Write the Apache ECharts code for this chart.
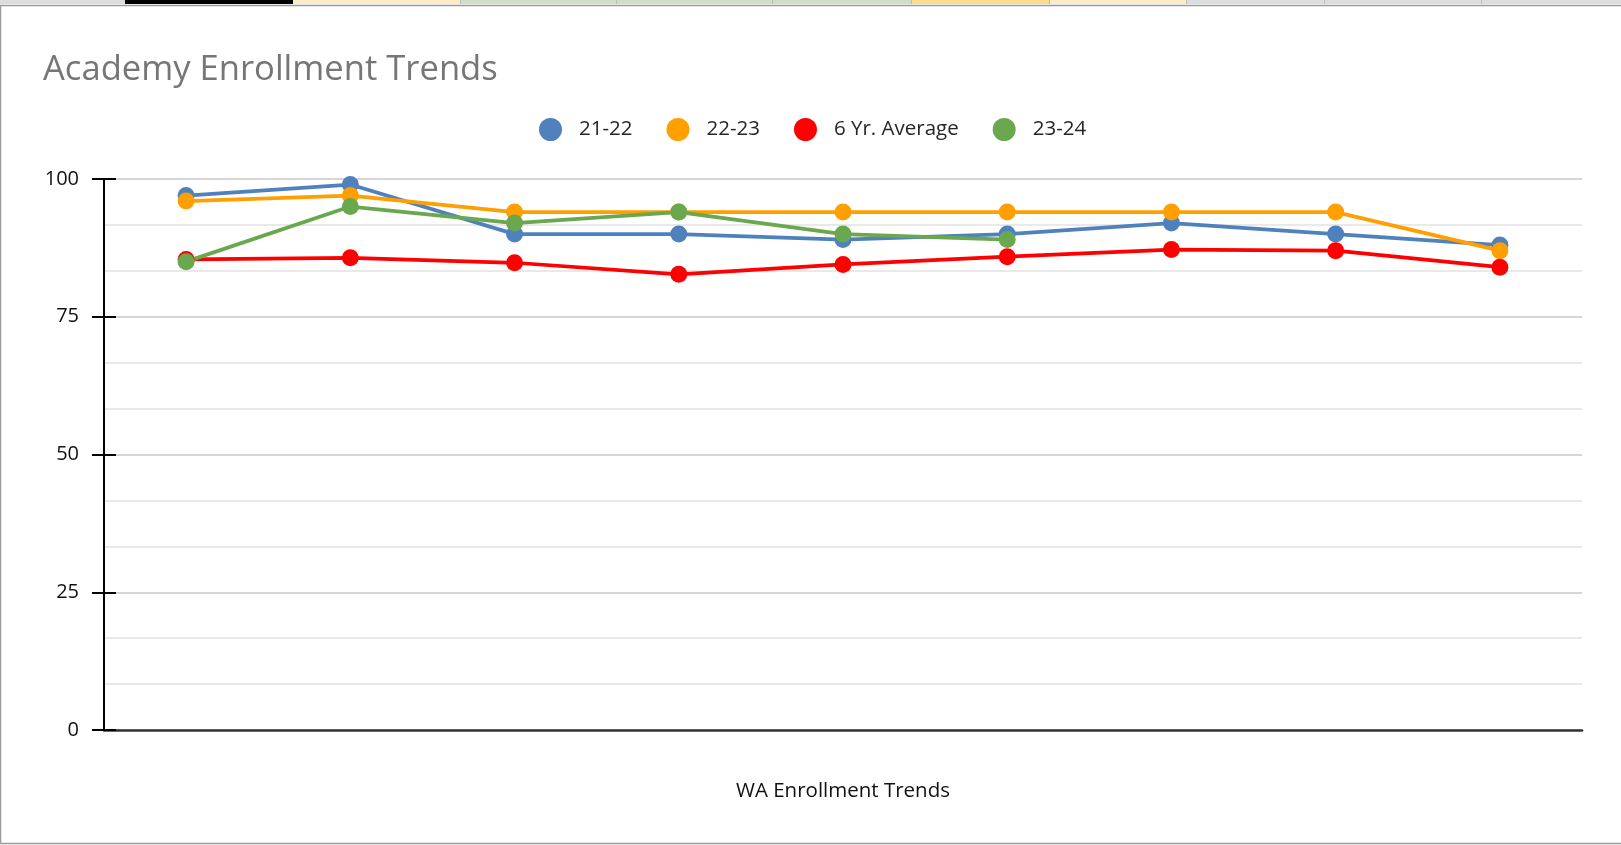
<!DOCTYPE html>
<html>
<head>
<meta charset="utf-8">
<script src="https://cdn.jsdelivr.net/npm/echarts@6/dist/echarts.min.js"></script>
<style>
html,body{margin:0;padding:0;background:#fff;}
#chart{width:1621px;height:845px;}
</style>
</head>
<body>
<div id="chart"></div>
<script>
var categories = ['1', '2', '3', '4', '5', '6', '7', '8', '9'];
var seriesNames = ['21-22', '22-23', '6 Yr. Average', '23-24'];
var s2122 = [97, 99, 90, 90, 89, 90, 92, 90, 88];
var s2223 = [96, 97, 94, 94, 94, 94, 94, 94, 87];
var sAvg = [85.4, 85.7, 84.8, 82.7, 84.5, 85.9, 87.2, 87.0, 84.0];
var s2324 = [85, 95, 92, 94, 90, 89, null, null, null];
var yTicks = [0, 25, 50, 75, 100];

var colors = ['#4f81bd', '#ff9f00', '#ff0000', '#6aa84f'];
var values = [s2122, s2223, sAvg, s2324];

var chart = echarts.init(document.getElementById('chart'), null, {renderer: 'canvas'});

var series = seriesNames.map(function (n, i) {
  return {
    name: n,
    type: 'line',
    data: values[i],
    symbol: 'circle',
    symbolSize: 17,
    showSymbol: true,
    connectNulls: false,
    lineStyle: {color: colors[i], width: 3.75},
    itemStyle: {color: colors[i]},
    emphasis: {disabled: true},
    animation: false
  };
});

var stripCells = [
  {x: 0, w: 125, c: '#dcdcdc'},
  {x: 125, w: 168, c: '#000000'},
  {x: 293, w: 167, c: '#fdebc8'},
  {x: 460, w: 451, c: '#cfe0c6'},
  {x: 911, w: 138, c: '#fbdc8c'},
  {x: 1049, w: 137, c: '#fdebc8'},
  {x: 1186, w: 435, c: '#dcdcdc'}
];
var seps = [460, 616, 772, 911, 1049, 1186, 1324, 1481];
var graphics = stripCells.map(function (s) {
  return {type: 'rect', shape: {x: s.x, y: 0, width: s.w, height: 4}, style: {fill: s.c}, silent: true};
});
seps.forEach(function (x) {
  graphics.push({type: 'rect', shape: {x: x, y: 0, width: 1, height: 4}, style: {fill: '#bdbdbd'}, silent: true});
});
graphics.push({type: 'polyline', shape: {points: [[1621, 5.5], [0.5, 5.5], [0.5, 843.5], [1621, 843.5]]}, style: {stroke: '#9a9a9a', lineWidth: 1.5, fill: null}, silent: true});

chart.setOption({
  backgroundColor: '#ffffff',
  animation: false,
  title: {
    text: 'Academy Enrollment Trends',
    left: 43,
    top: 53,
    padding: 0,
    textStyle: {fontFamily: 'Open Sans', fontSize: 34.6, fontWeight: 'normal', color: '#767676'}
  },
  legend: {
    data: seriesNames,
    icon: 'circle',
    itemWidth: 47,
    itemHeight: 23,
    itemGap: 34,
    left: 534,
    top: 113,
    textStyle: {fontFamily: 'Open Sans', fontSize: 20.5, color: '#262626'},
    selectedMode: false
  },
  graphic: graphics,
  grid: {left: 104, right: 39, top: 179, bottom: 115, containLabel: false},
  xAxis: {
    type: 'category',
    data: categories,
    boundaryGap: true,
    axisLine: {show: true, lineStyle: {color: '#333333', width: 2.5}},
    axisTick: {show: false},
    axisLabel: {show: false},
    splitLine: {show: false},
    name: 'WA Enrollment Trends',
    nameLocation: 'middle',
    nameGap: 51,
    nameTextStyle: {fontFamily: 'Open Sans', fontSize: 20.5, color: '#111111'}
  },
  yAxis: [{
    type: 'value',
    min: yTicks[0],
    max: yTicks[yTicks.length - 1],
    interval: 25,
    position: 'left',
    axisLine: {show: true, onZero: false, lineStyle: {color: '#000', width: 2}},
    axisTick: {show: true, inside: false, length: 12, lineStyle: {color: '#000', width: 2}},
    axisLabel: {margin: 25, fontFamily: 'Open Sans', fontSize: 20, color: '#111111'},
    splitLine: {show: true, lineStyle: {color: '#c8c8c8', width: 1.5}},
    minorTick: {show: false, splitNumber: 3},
    minorSplitLine: {show: true, lineStyle: {color: '#e2e2e2', width: 1.5}}
  }, {
    type: 'value',
    min: yTicks[0],
    max: yTicks[yTicks.length - 1],
    interval: 25,
    position: 'left',
    axisLine: {show: false},
    axisTick: {show: true, inside: true, length: 12, lineStyle: {color: '#000', width: 2}},
    axisLabel: {show: false},
    splitLine: {show: false}
  }],
  series: series
});
</script>
</body>
</html>
